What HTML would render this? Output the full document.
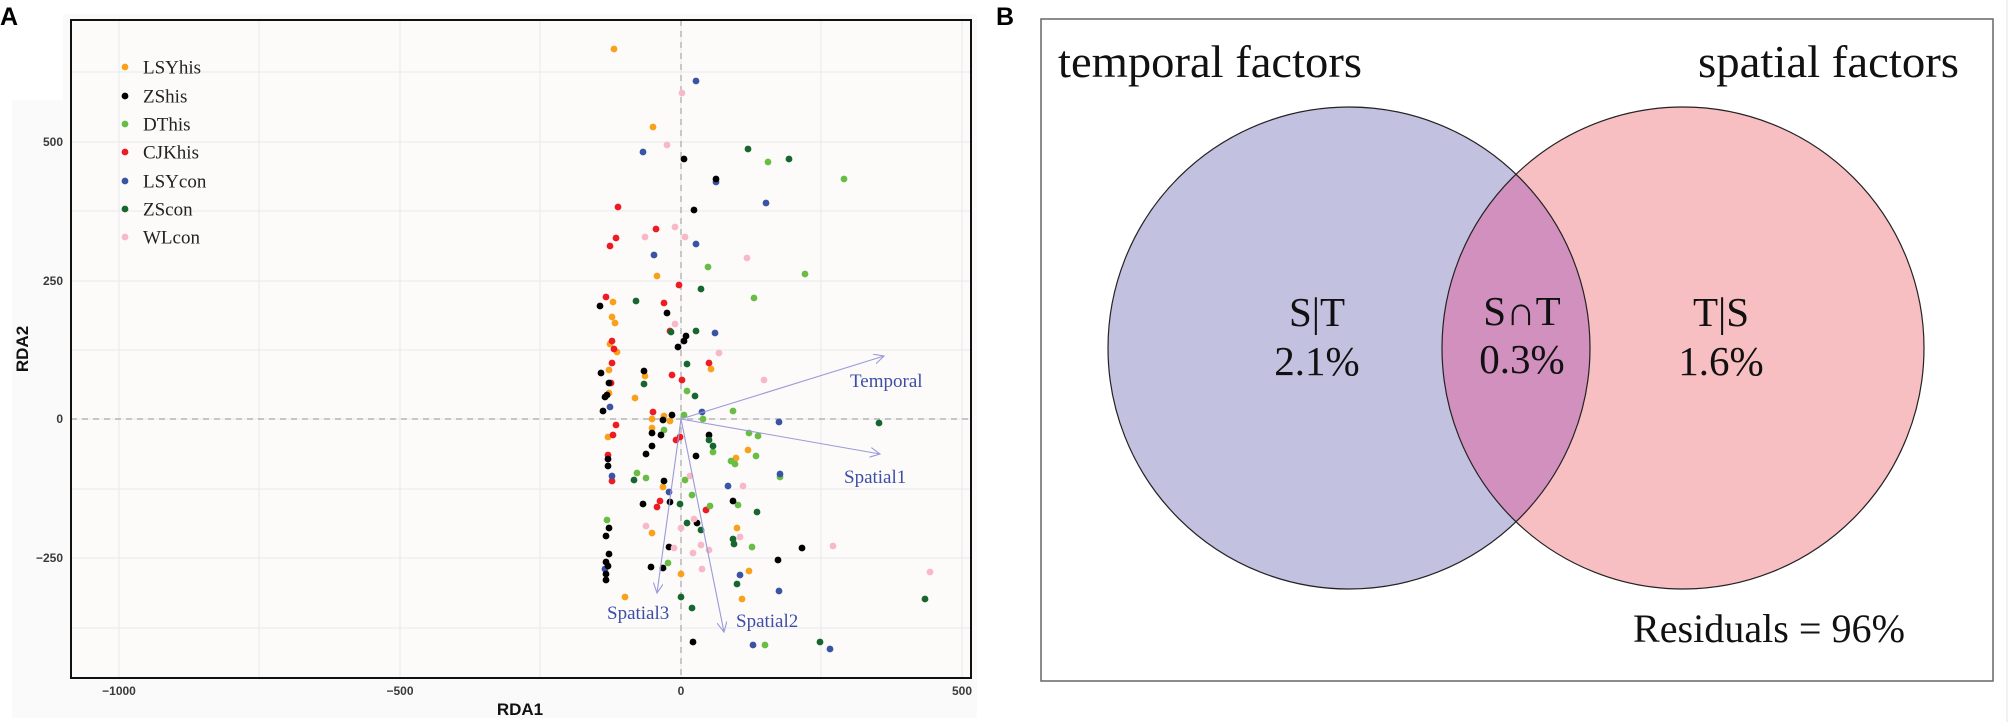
<!DOCTYPE html>
<html>
<head>
<meta charset="utf-8">
<style>
html,body{margin:0;padding:0;background:#fff;}
body{width:2008px;height:722px;overflow:hidden;}
svg{display:block;}
.tick{font-family:"Liberation Sans",sans-serif;font-weight:bold;font-size:12px;fill:#3a3a3a;}
.axt{font-family:"Liberation Sans",sans-serif;font-weight:bold;font-size:17px;fill:#111;}
.leg{font-family:"Liberation Serif",serif;font-size:19px;fill:#222;}
.arl{font-family:"Liberation Serif",serif;font-size:19px;fill:#3d4ea6;}
.ven{font-family:"Liberation Serif","DejaVu Serif",serif;fill:#111;}
.pl{font-family:"Liberation Sans",sans-serif;font-weight:bold;font-size:25px;fill:#000;}
</style>
</head>
<body>
<svg width="2008" height="722" viewBox="0 0 2008 722" xmlns="http://www.w3.org/2000/svg">
<defs>
<marker id="ah" markerWidth="12" markerHeight="12" refX="10" refY="5" orient="auto" markerUnits="userSpaceOnUse">
<path d="M0,0 L10,5 L0,10" fill="none" stroke="#9a9ad8" stroke-width="1.1"/>
</marker>
</defs>
<!-- Panel A background -->
<path d="M63,14 H977 V718 H12 V100 H63 Z" fill="#fbfafa"/>
<rect x="71" y="20" width="900" height="658" fill="#fcfbfa"/>
<!-- gridlines -->
<g stroke="#ecebf0" stroke-width="1.2">
<line x1="119" y1="20" x2="119" y2="678"/>
<line x1="259" y1="20" x2="259" y2="678"/>
<line x1="400" y1="20" x2="400" y2="678"/>
<line x1="540" y1="20" x2="540" y2="678"/>
<line x1="681" y1="20" x2="681" y2="678"/>
<line x1="821" y1="20" x2="821" y2="678"/>
<line x1="962" y1="20" x2="962" y2="678"/>
<line x1="71" y1="72" x2="971" y2="72"/>
<line x1="71" y1="142" x2="971" y2="142"/>
<line x1="71" y1="211" x2="971" y2="211"/>
<line x1="71" y1="281" x2="971" y2="281"/>
<line x1="71" y1="350" x2="971" y2="350"/>
<line x1="71" y1="419" x2="971" y2="419"/>
<line x1="71" y1="489" x2="971" y2="489"/>
<line x1="71" y1="558" x2="971" y2="558"/>
<line x1="71" y1="628" x2="971" y2="628"/>
</g>
<!-- dashed zero lines -->
<g stroke="#a8a8a8" stroke-width="1.2" stroke-dasharray="6,5">
<line x1="681" y1="20" x2="681" y2="678"/>
<line x1="71" y1="419" x2="971" y2="419"/>
</g>
<!-- points -->
<g fill="#f9a11b">
<circle cx="614" cy="49" r="3.4"/><circle cx="653" cy="127" r="3.4"/><circle cx="657" cy="276" r="3.4"/><circle cx="613" cy="302" r="3.4"/><circle cx="612" cy="317" r="3.4"/><circle cx="615" cy="323" r="3.4"/><circle cx="610" cy="344" r="3.4"/><circle cx="617" cy="352" r="3.4"/><circle cx="711" cy="369" r="3.4"/><circle cx="645" cy="376" r="3.4"/><circle cx="609" cy="370" r="3.4"/><circle cx="609" cy="393" r="3.4"/><circle cx="635" cy="398" r="3.4"/><circle cx="664" cy="416" r="3.4"/><circle cx="652" cy="419" r="3.4"/><circle cx="670" cy="421" r="3.4"/><circle cx="652" cy="428" r="3.4"/><circle cx="608" cy="437" r="3.4"/><circle cx="748" cy="450" r="3.4"/><circle cx="736" cy="458" r="3.4"/><circle cx="663" cy="487" r="3.4"/><circle cx="652" cy="533" r="3.4"/><circle cx="737" cy="528" r="3.4"/><circle cx="681" cy="574" r="3.4"/><circle cx="749" cy="571" r="3.4"/><circle cx="625" cy="597" r="3.4"/><circle cx="742" cy="599" r="3.4"/>
</g>
<g fill="#3a54a4">
<circle cx="696" cy="81" r="3.4"/><circle cx="643" cy="152" r="3.4"/><circle cx="716" cy="182" r="3.4"/><circle cx="766" cy="203" r="3.4"/><circle cx="696" cy="244" r="3.4"/><circle cx="654" cy="255" r="3.4"/><circle cx="715" cy="333" r="3.4"/><circle cx="610" cy="407" r="3.4"/><circle cx="702" cy="412" r="3.4"/><circle cx="779" cy="422" r="3.4"/><circle cx="669" cy="492" r="3.4"/><circle cx="728" cy="486" r="3.4"/><circle cx="605" cy="569" r="3.4"/><circle cx="740" cy="575" r="3.4"/><circle cx="779" cy="591" r="3.4"/><circle cx="753" cy="645" r="3.4"/><circle cx="830" cy="649" r="3.4"/>
</g>
<g fill="#ed1c24">
<circle cx="618" cy="207" r="3.4"/><circle cx="656" cy="229" r="3.4"/><circle cx="616" cy="238" r="3.4"/><circle cx="610" cy="246" r="3.4"/><circle cx="679" cy="285" r="3.4"/><circle cx="606" cy="297" r="3.4"/><circle cx="664" cy="303" r="3.4"/><circle cx="670" cy="331" r="3.4"/><circle cx="612" cy="341" r="3.4"/><circle cx="614" cy="349" r="3.4"/><circle cx="612" cy="363" r="3.4"/><circle cx="709" cy="363" r="3.4"/><circle cx="672" cy="375" r="3.4"/><circle cx="682" cy="380" r="3.4"/><circle cx="611" cy="383" r="3.4"/><circle cx="653" cy="412" r="3.4"/><circle cx="616" cy="425" r="3.4"/><circle cx="613" cy="435" r="3.4"/><circle cx="676" cy="440" r="3.4"/><circle cx="680" cy="437" r="3.4"/><circle cx="608" cy="455" r="3.4"/><circle cx="612" cy="481" r="3.4"/><circle cx="660" cy="501" r="3.4"/><circle cx="657" cy="507" r="3.4"/><circle cx="706" cy="510" r="3.4"/>
</g>
<g fill="#69bd45">
<circle cx="768" cy="162" r="3.4"/><circle cx="844" cy="179" r="3.4"/><circle cx="708" cy="267" r="3.4"/><circle cx="805" cy="274" r="3.4"/><circle cx="754" cy="298" r="3.4"/><circle cx="687" cy="391" r="3.4"/><circle cx="733" cy="411" r="3.4"/><circle cx="684" cy="415" r="3.4"/><circle cx="703" cy="419" r="3.4"/><circle cx="664" cy="430" r="3.4"/><circle cx="749" cy="433" r="3.4"/><circle cx="758" cy="436" r="3.4"/><circle cx="713" cy="452" r="3.4"/><circle cx="756" cy="456" r="3.4"/><circle cx="731" cy="461" r="3.4"/><circle cx="735" cy="464" r="3.4"/><circle cx="637" cy="473" r="3.4"/><circle cx="646" cy="478" r="3.4"/><circle cx="685" cy="480" r="3.4"/><circle cx="692" cy="495" r="3.4"/><circle cx="780" cy="477" r="3.4"/><circle cx="738" cy="505" r="3.4"/><circle cx="710" cy="506" r="3.4"/><circle cx="607" cy="520" r="3.4"/><circle cx="752" cy="547" r="3.4"/><circle cx="668" cy="563" r="3.4"/><circle cx="765" cy="645" r="3.4"/>
</g>
<g fill="#3a54a4">
<circle cx="612" cy="476" r="3.4"/><circle cx="780" cy="474" r="3.4"/>
</g>
<g fill="#000">
<circle cx="684" cy="159" r="3.4"/><circle cx="716" cy="179" r="3.4"/><circle cx="694" cy="210" r="3.4"/><circle cx="600" cy="306" r="3.4"/><circle cx="667" cy="313" r="3.4"/><circle cx="686" cy="336" r="3.4"/><circle cx="684" cy="341" r="3.4"/><circle cx="678" cy="347" r="3.4"/><circle cx="644" cy="371" r="3.4"/><circle cx="601" cy="373" r="3.4"/><circle cx="609" cy="383" r="3.4"/><circle cx="607" cy="395" r="3.4"/><circle cx="605" cy="397" r="3.4"/><circle cx="603" cy="411" r="3.4"/><circle cx="672" cy="415" r="3.4"/><circle cx="663" cy="420" r="3.4"/><circle cx="652" cy="433" r="3.4"/><circle cx="661" cy="435" r="3.4"/><circle cx="709" cy="435" r="3.4"/><circle cx="652" cy="446" r="3.4"/><circle cx="646" cy="454" r="3.4"/><circle cx="696" cy="456" r="3.4"/><circle cx="608" cy="459" r="3.4"/><circle cx="608" cy="466" r="3.4"/><circle cx="664" cy="481" r="3.4"/><circle cx="643" cy="504" r="3.4"/><circle cx="670" cy="502" r="3.4"/><circle cx="733" cy="501" r="3.4"/><circle cx="609" cy="528" r="3.4"/><circle cx="606" cy="536" r="3.4"/><circle cx="697" cy="523" r="3.4"/><circle cx="609" cy="554" r="3.4"/><circle cx="606" cy="562" r="3.4"/><circle cx="608" cy="566" r="3.4"/><circle cx="606" cy="574" r="3.4"/><circle cx="606" cy="580" r="3.4"/><circle cx="669" cy="547" r="3.4"/><circle cx="802" cy="548" r="3.4"/><circle cx="778" cy="560" r="3.4"/><circle cx="651" cy="567" r="3.4"/><circle cx="663" cy="568" r="3.4"/><circle cx="693" cy="642" r="3.4"/>
</g>
<g fill="#17662f">
<circle cx="748" cy="149" r="3.4"/><circle cx="789" cy="159" r="3.4"/><circle cx="701" cy="289" r="3.4"/><circle cx="636" cy="301" r="3.4"/><circle cx="671" cy="332" r="3.4"/><circle cx="696" cy="331" r="3.4"/><circle cx="687" cy="364" r="3.4"/><circle cx="644" cy="384" r="3.4"/><circle cx="695" cy="396" r="3.4"/><circle cx="879" cy="423" r="3.4"/><circle cx="709" cy="440" r="3.4"/><circle cx="713" cy="446" r="3.4"/><circle cx="634" cy="480" r="3.4"/><circle cx="680" cy="504" r="3.4"/><circle cx="757" cy="512" r="3.4"/><circle cx="687" cy="523" r="3.4"/><circle cx="701" cy="530" r="3.4"/><circle cx="733" cy="539" r="3.4"/><circle cx="734" cy="544" r="3.4"/><circle cx="737" cy="584" r="3.4"/><circle cx="681" cy="597" r="3.4"/><circle cx="692" cy="608" r="3.4"/><circle cx="925" cy="599" r="3.4"/><circle cx="820" cy="642" r="3.4"/>
</g>
<g fill="#f7b8c8">
<circle cx="682" cy="93" r="3.4"/><circle cx="667" cy="145" r="3.4"/><circle cx="675" cy="227" r="3.4"/><circle cx="645" cy="237" r="3.4"/><circle cx="685" cy="237" r="3.4"/><circle cx="747" cy="258" r="3.4"/><circle cx="675" cy="324" r="3.4"/><circle cx="719" cy="353" r="3.4"/><circle cx="764" cy="380" r="3.4"/><circle cx="690" cy="476" r="3.4"/><circle cx="743" cy="486" r="3.4"/><circle cx="646" cy="526" r="3.4"/><circle cx="681" cy="528" r="3.4"/><circle cx="694" cy="519" r="3.4"/><circle cx="740" cy="537" r="3.4"/><circle cx="674" cy="548" r="3.4"/><circle cx="701" cy="545" r="3.4"/><circle cx="709" cy="550" r="3.4"/><circle cx="693" cy="553" r="3.4"/><circle cx="833" cy="546" r="3.4"/><circle cx="702" cy="569" r="3.4"/><circle cx="930" cy="572" r="3.4"/>
</g>
<!-- arrows -->
<g stroke="#9a9ad8" stroke-width="1.1" fill="none" marker-end="url(#ah)">
<line x1="681" y1="419" x2="884" y2="356"/>
<line x1="681" y1="419" x2="880" y2="454"/>
<line x1="681" y1="419" x2="657" y2="593"/>
<line x1="681" y1="419" x2="724" y2="632"/>
</g>
<text class="arl" x="850" y="387">Temporal</text>
<text class="arl" x="844" y="483">Spatial1</text>
<text class="arl" x="607" y="619">Spatial3</text>
<text class="arl" x="736" y="627">Spatial2</text>
<!-- legend -->
<g>
<circle cx="125" cy="67" r="3.4" fill="#f9a11b"/><text class="leg" x="143" y="73.5">LSYhis</text>
<circle cx="125" cy="96" r="3.4" fill="#000"/><text class="leg" x="143" y="102.5">ZShis</text>
<circle cx="125" cy="124" r="3.4" fill="#69bd45"/><text class="leg" x="143" y="130.5">DThis</text>
<circle cx="125" cy="152" r="3.4" fill="#ed1c24"/><text class="leg" x="143" y="158.5">CJKhis</text>
<circle cx="125" cy="181" r="3.4" fill="#3a54a4"/><text class="leg" x="143" y="187.5">LSYcon</text>
<circle cx="125" cy="209" r="3.4" fill="#17662f"/><text class="leg" x="143" y="215.5">ZScon</text>
<circle cx="125" cy="237" r="3.4" fill="#f7b8c8"/><text class="leg" x="143" y="243.5">WLcon</text>
</g>
<!-- plot border -->
<rect x="71" y="20" width="900" height="658" fill="none" stroke="#111" stroke-width="2"/>
<!-- tick labels -->
<g class="tick" text-anchor="end">
<text x="63" y="146">500</text>
<text x="63" y="285">250</text>
<text x="63" y="423">0</text>
<text x="63" y="562">−250</text>
</g>
<g class="tick" text-anchor="middle">
<text x="119" y="695">−1000</text>
<text x="400" y="695">−500</text>
<text x="681" y="695">0</text>
<text x="962" y="695">500</text>
</g>
<text class="axt" x="520" y="715" text-anchor="middle">RDA1</text>
<text class="axt" transform="translate(28,349) rotate(-90)" text-anchor="middle">RDA2</text>
<text class="pl" x="0" y="25">A</text>
<text class="pl" x="996" y="25">B</text>
<!-- Panel B -->
<rect x="1041" y="19" width="952" height="662" fill="#fff" stroke="#666" stroke-width="1.5"/>
<line x1="2007" y1="0" x2="2007" y2="722" stroke="#e6e6e6" stroke-width="1"/>
<clipPath id="cl"><circle cx="1349" cy="348" r="241"/></clipPath>
<circle cx="1349" cy="348" r="241" fill="#c3c1e0"/>
<circle cx="1683" cy="348" r="241" fill="#f8bfc3"/>
<circle cx="1683" cy="348" r="241" fill="#d190bd" clip-path="url(#cl)"/>
<circle cx="1349" cy="348" r="241" fill="none" stroke="#222" stroke-width="1.2"/>
<circle cx="1683" cy="348" r="241" fill="none" stroke="#222" stroke-width="1.2"/>
<text class="ven" x="1058" y="77" font-size="46" textLength="304" lengthAdjust="spacingAndGlyphs">temporal factors</text>
<text class="ven" x="1698" y="77" font-size="46" textLength="261" lengthAdjust="spacingAndGlyphs">spatial factors</text>
<g class="ven" font-size="41" text-anchor="middle">
<text x="1317" y="326">S|T</text>
<text x="1317" y="375">2.1%</text>
<text x="1522" y="325">S∩T</text>
<text x="1522" y="373">0.3%</text>
<text x="1721" y="326">T|S</text>
<text x="1721" y="375">1.6%</text>
</g>
<text class="ven" x="1633" y="642" font-size="40" textLength="272" lengthAdjust="spacingAndGlyphs">Residuals = 96%</text>
</svg>
</body>
</html>
